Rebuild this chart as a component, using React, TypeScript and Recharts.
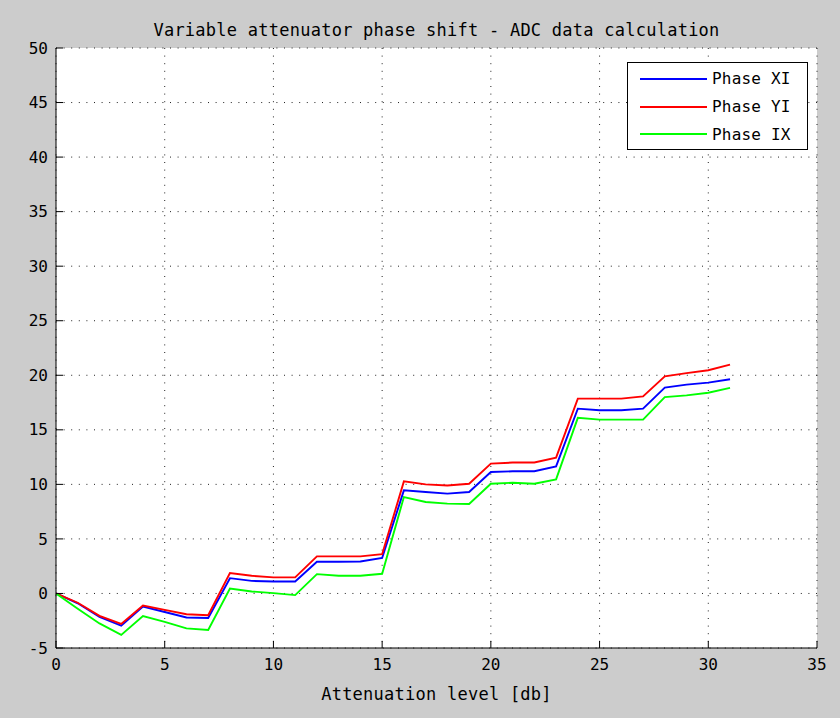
import { LineChart, Line, XAxis, YAxis, CartesianGrid, Legend } from 'recharts'

// attenuation steps [db]
const attenuation = [
    0, 1, 2, 3, 4, 5, 6, 7, 8, 9, 10, 11, 12, 13, 14, 15,
    16, 17, 18, 19, 20, 21, 22, 23, 24, 25, 26, 27, 28, 29, 30, 31,
]

const phaseXI = [
    0, -0.9, -2.15, -2.95, -1.2, -1.7, -2.2, -2.25, 1.4, 1.15, 1.1, 1.1, 2.9, 2.9, 2.93, 3.25,
    9.45, 9.3, 9.15, 9.3, 11.13, 11.2, 11.2, 11.65, 16.94, 16.8, 16.8, 16.94, 18.87, 19.14, 19.33, 19.63,
]

const phaseYI = [
    0, -0.85, -2.05, -2.8, -1.1, -1.5, -1.9, -2.0, 1.87, 1.62, 1.47, 1.47, 3.4, 3.4, 3.4, 3.6,
    10.27, 10.0, 9.9, 10.06, 11.9, 12.0, 12.0, 12.45, 17.86, 17.86, 17.86, 18.07, 19.9, 20.2, 20.46, 20.98,
]

const phaseIX = [
    0, -1.4, -2.75, -3.8, -2.07, -2.6, -3.2, -3.35, 0.46, 0.18, 0.03, -0.15, 1.77, 1.62, 1.62, 1.8,
    8.84, 8.38, 8.23, 8.2, 10.06, 10.15, 10.06, 10.46, 16.1, 15.93, 15.93, 15.93, 18.0, 18.16, 18.4, 18.84,
]

const xTicks = [0, 5, 10, 15, 20, 25, 30, 35]
const yTicks = [-5, 0, 5, 10, 15, 20, 25, 30, 35, 40, 45, 50]

const series = [
    { key: 'xi', name: 'Phase XI', color: '#0000ff' },
    { key: 'yi', name: 'Phase YI', color: '#ff0000' },
    { key: 'ix', name: 'Phase IX', color: '#00ff00' },
]

const data = attenuation.map((a, i) => ({
    att: a,
    xi: phaseXI[i],
    yi: phaseYI[i],
    ix: phaseIX[i],
}))

const FONT = '"DejaVu Sans Mono", "Liberation Mono", monospace'
const tickStyle = { fill: '#000', fontSize: 16, fontFamily: FONT }

// boxed legend in the upper right corner, series in plotting order
function LegendBox() {
    return (
        <div
            style={{
                width: 181,
                height: 88,
                background: '#fff',
                border: '1px solid #000',
                boxSizing: 'border-box',
                paddingTop: 2,
                fontFamily: FONT,
                fontSize: 16,
                textAlign: 'left',
            }}
        >
            {series.map((s) => (
                <div key={s.key} style={{ display: 'flex', alignItems: 'center', height: 27.7 }}>
                    <div style={{ width: 67, height: 2, background: s.color, marginLeft: 12, marginRight: 5 }} />
                    <span style={{ color: '#000', letterSpacing: 0.2 }}>{s.name}</span>
                </div>
            ))}
        </div>
    )
}

export default function App() {
    return (
        <div style={{ position: 'absolute', left: 0, top: 0, width: 840, height: 718, background: '#cccccc' }}>
            <div
                style={{
                    position: 'absolute',
                    top: 20,
                    left: 56,
                    width: 761,
                    textAlign: 'center',
                    fontFamily: FONT,
                    fontSize: 17,
                    letterSpacing: 0.25,
                    color: '#000',
                }}
            >
                Variable attenuator phase shift - ADC data calculation
            </div>
            <LineChart
                width={840}
                height={718}
                data={data}
                margin={{ top: 48, right: 23, left: 0, bottom: 0 }}
                style={{ fontFamily: FONT }}
            >
                <CartesianGrid
                    fill="#fff"
                    stroke="#222"
                    strokeDasharray="1 6.6"
                    verticalValues={xTicks}
                    horizontalValues={yTicks}
                />
                <XAxis
                    xAxisId={0}
                    dataKey="att"
                    type="number"
                    domain={[0, 35]}
                    ticks={xTicks}
                    interval={0}
                    height={70}
                    tickSize={-7}
                    tickMargin={18}
                    stroke="#000"
                    tick={tickStyle}
                    label={{
                        value: 'Attenuation level [db]',
                        position: 'insideBottom',
                        offset: 18,
                        fill: '#000',
                        fontSize: 17,
                        fontFamily: FONT,
                        letterSpacing: 0.25,
                    }}
                />
                <XAxis
                    xAxisId="top"
                    orientation="top"
                    dataKey="att"
                    type="number"
                    domain={[0, 35]}
                    ticks={xTicks}
                    interval={0}
                    height={0}
                    tickSize={-7}
                    stroke="#000"
                    tick={false}
                />
                <YAxis
                    yAxisId={0}
                    type="number"
                    domain={[-5, 50]}
                    ticks={yTicks}
                    interval={0}
                    width={56}
                    tickSize={-7}
                    tickMargin={15}
                    stroke="#000"
                    tick={tickStyle}
                />
                <YAxis
                    yAxisId="right"
                    orientation="right"
                    type="number"
                    domain={[-5, 50]}
                    ticks={yTicks}
                    interval={0}
                    width={0}
                    tickSize={-7}
                    stroke="#000"
                    tick={false}
                />
                {series.map((s) => (
                    <Line
                        key={s.key}
                        dataKey={s.key}
                        name={s.name}
                        stroke={s.color}
                        strokeWidth={1.9}
                        dot={false}
                        type="linear"
                        isAnimationActive={false}
                    />
                ))}
                <Legend
                    content={<LegendBox />}
                    layout="horizontal"
                    verticalAlign="middle"
                    align="center"
                    wrapperStyle={{ position: 'absolute', left: 627, top: 62, width: 181, height: 88 }}
                />
            </LineChart>
        </div>
    )
}
